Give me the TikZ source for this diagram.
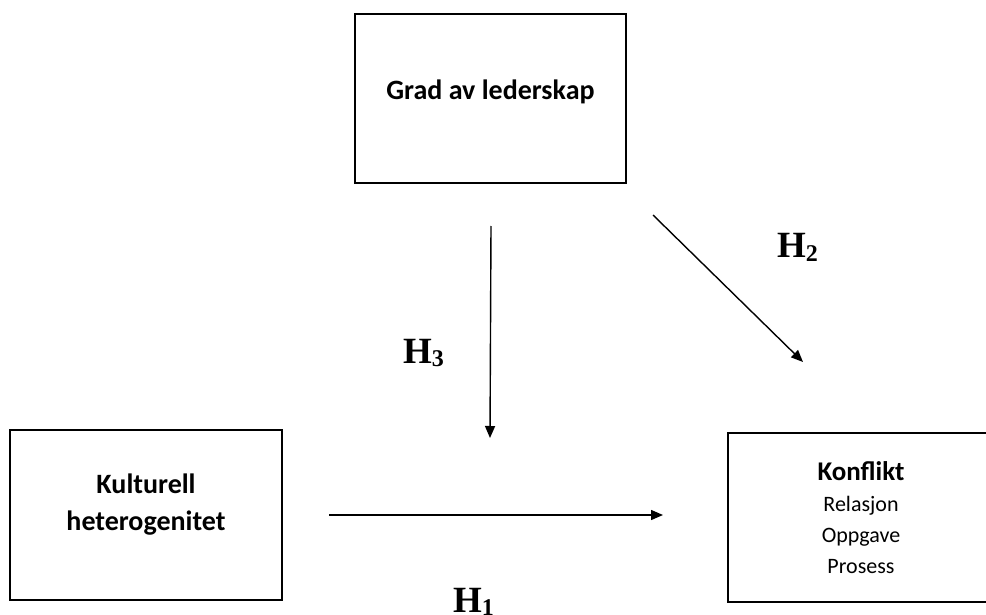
\documentclass[tikz,border=0pt]{standalone}
\usepackage{fontspec}
\setmainfont{Carlito}
\newfontfamily\hfont{Liberation Serif}
\usetikzlibrary{arrows.meta}
\tikzset{
  box/.style={draw, line width=1.5pt, inner sep=0pt, align=center},
  conn/.style={line width=1.4pt, -{Triangle[length=12pt,width=10pt]}},
  hyp/.style={font=\hfont\bfseries\fontsize{37}{37}\selectfont, anchor=base west, inner sep=0pt}
}
\newcommand{\hsub}[1]{\raisebox{-3pt}{\fontsize{24}{24}\selectfont #1}}
\begin{document}
\begin{tikzpicture}[x=1pt,y=-1pt]
\useasboundingbox (0,0) rectangle (986,615);
\fill[white] (0,0) rectangle (986,615);
% boxes
\node[box, minimum width=271pt, minimum height=169pt,
      font=\bfseries\fontsize{28}{30}\selectfont] (lead) at (490.5,98.5)
      {\raisebox{-1.5pt}[0pt][0pt]{Grad av lederskap}};
\node[box, minimum width=272pt, minimum height=170pt,
      font=\bfseries\fontsize{28}{37}\selectfont] (kult) at (146,515)
      {\raisebox{-15pt}[0pt][0pt]{\begin{tabular}[b]{@{}c@{}}Kulturell\\heterogenitet\end{tabular}}};
\node[box, minimum width=266pt, minimum height=169pt,
      font=\fontsize{22}{31}\selectfont] (konf) at (861,517.5)
      {{\bfseries\fontsize{27}{31}\selectfont Konflikt}\\Relasjon\\Oppgave\\Prosess};
% connector end points
\coordinate (h3s) at (491,226);
\coordinate (h3e) at (490,438);
\coordinate (h2s) at (653,215);
\coordinate (h2e) at (803,362);
\coordinate (h1s) at (329,515);
\coordinate (h1e) at (663,515);
\draw[conn] (h3s) -- (h3e);
\draw[conn] (h2s) -- (h2e);
\draw[conn] (h1s) -- (h1e);
% labels
\node[hyp] (lh1) at (453,612) {H\hsub{1}};
\node[hyp] (lh2) at (777,258) {H\hsub{2}};
\node[hyp] (lh3) at (403,363) {H\hsub{3}};
\end{tikzpicture}
\end{document}
